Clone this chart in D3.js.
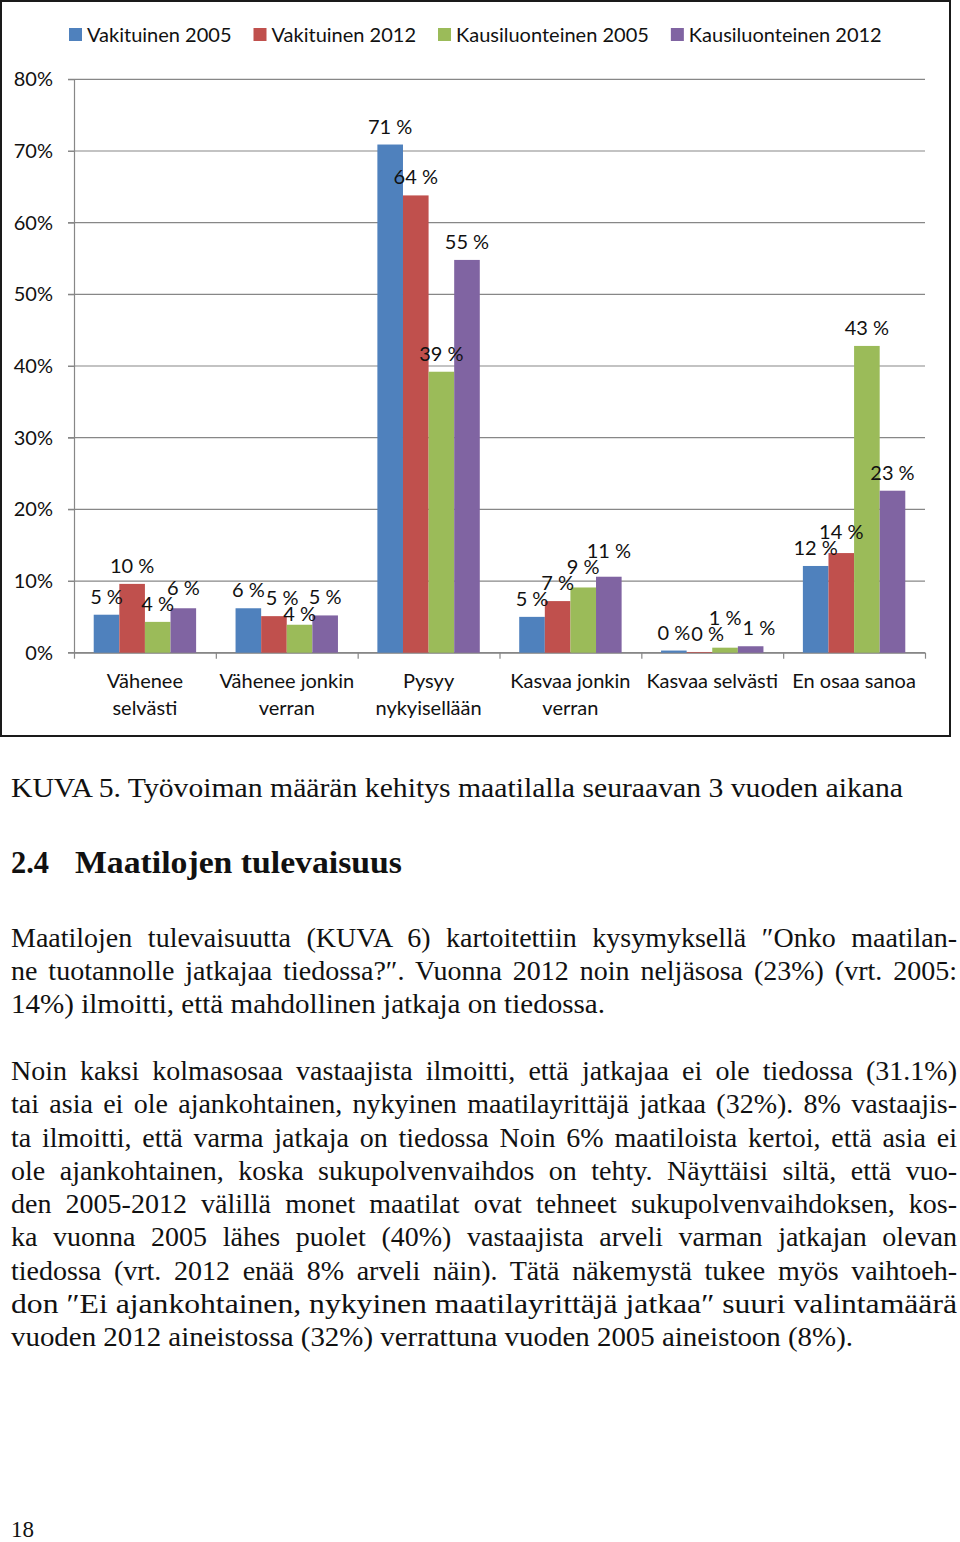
<!DOCTYPE html>
<html><head><meta charset="utf-8">
<script src="https://cdn.jsdelivr.net/npm/d3@7"></script>
<style>body{margin:0;background:#fff} svg{display:block}</style>
</head><body><svg id="c" width="960" height="1542"></svg>
<script>
// ---- data ----
const categoryLines = [["Vähenee","selvästi"],["Vähenee jonkin","verran"],["Pysyy","nykyisellään"],["Kasvaa jonkin","verran"],["Kasvaa selvästi"],["En osaa sanoa"]];
const seriesNames = ["Vakituinen 2005","Vakituinen 2012","Kausiluonteinen 2005","Kausiluonteinen 2012"];
const vakituinen2005 = [0.053, 0.062, 0.709, 0.050, 0.003, 0.121];
const vakituinen2012 = [0.096, 0.051, 0.638, 0.072, 0.001, 0.139];
const kausi2005      = [0.043, 0.039, 0.392, 0.091, 0.007, 0.428];
const kausi2012      = [0.062, 0.052, 0.548, 0.106, 0.009, 0.226];
const seriesValues = [vakituinen2005, vakituinen2012, kausi2005, kausi2012];
const colors = ["#4F81BD","#C0504D","#9BBB59","#8064A2"];
const yTicks = [0,0.1,0.2,0.3,0.4,0.5,0.6,0.7,0.8];

const caption = "KUVA 5. Työvoiman määrän kehitys maatilalla seuraavan 3 vuoden aikana";
const headingNum = "2.4";
const headingText = "Maatilojen tulevaisuus";
const para1 = [
  "Maatilojen tulevaisuutta (KUVA 6) kartoitettiin kysymyksellä ″Onko maatilan-",
  "ne tuotannolle jatkajaa tiedossa?″. Vuonna 2012 noin neljäsosa (23%) (vrt. 2005:",
  "14%) ilmoitti, että mahdollinen jatkaja on tiedossa."
];
const para2 = [
  "Noin kaksi kolmasosaa vastaajista ilmoitti, että jatkajaa ei ole tiedossa (31.1%)",
  "tai asia ei ole ajankohtainen, nykyinen maatilayrittäjä jatkaa (32%). 8% vastaajis-",
  "ta ilmoitti, että varma jatkaja on tiedossa Noin 6% maatiloista kertoi, että asia ei",
  "ole ajankohtainen, koska sukupolvenvaihdos on tehty. Näyttäisi siltä, että vuo-",
  "den 2005-2012 välillä monet maatilat ovat tehneet sukupolvenvaihdoksen, kos-",
  "ka vuonna 2005 lähes puolet (40%) vastaajista arveli varman jatkajan olevan",
  "tiedossa (vrt. 2012 enää 8% arveli näin). Tätä näkemystä tukee myös vaihtoeh-",
  "don ″Ei ajankohtainen, nykyinen maatilayrittäjä jatkaa″ suuri valintamäärä",
  "vuoden 2012 aineistossa (32%) verrattuna vuoden 2005 aineistoon (8%)."
];
const pageNumber = "18";

// ---- chart ----
const svg = d3.select("#c");
const chartFont = "Lato, 'Open Sans', sans-serif";
const FS = 20;
svg.append("rect").attr("x",1).attr("y",1).attr("width",949).attr("height",735)
  .attr("fill","#fff").attr("stroke","#1a1a1a").attr("stroke-width",2);

const L = 74, R = 925, T = 79.3, B = 652.7;
const y = d3.scaleLinear().domain([0,0.8]).range([B,T]);
const x0 = d3.scaleBand().domain(d3.range(categoryLines.length)).range([L,R]);
const x1 = d3.scaleBand().domain(d3.range(seriesNames.length)).range([0,x0.bandwidth()]).paddingOuter(0.77);
const xl = d3.scaleLinear().domain([0,categoryLines.length]).range([L,R]);

// gridlines
svg.append("g").selectAll("line").data(yTicks).join("line")
  .attr("x1",68).attr("x2",R).attr("y1",d=>y(d)).attr("y2",d=>y(d))
  .attr("stroke","#878787").attr("stroke-width",1.2);

// y axis
const ya = svg.append("g").attr("transform",`translate(${L},0)`)
  .call(d3.axisLeft(y).tickValues(yTicks).tickSize(6).tickSizeOuter(0).tickPadding(15).tickFormat(d3.format(".0%")));
ya.select(".domain").attr("stroke","#878787").attr("stroke-width",1.2);
ya.selectAll(".tick line").attr("stroke","#878787");
ya.selectAll("text").attr("font-family",chartFont).attr("font-size",FS).attr("fill","#111");

// x axis
const xa = svg.append("g").attr("transform",`translate(0,${B})`)
  .call(d3.axisBottom(xl).tickValues(d3.range(categoryLines.length+1)).tickSize(6).tickSizeOuter(0).tickFormat(""));
xa.select(".domain").attr("stroke","#878787").attr("stroke-width",1.2);
xa.selectAll(".tick line").attr("stroke","#878787").attr("stroke-width",1.2);

// category labels
const cl = svg.append("g").attr("font-family",chartFont).attr("font-size",FS).attr("fill","#111").attr("text-anchor","middle");
categoryLines.forEach((lines,i)=>{
  lines.forEach((ln,j)=>{
    cl.append("text").attr("x",x0(i)+x0.bandwidth()/2).attr("y",688+j*27).text(ln);
  });
});

// bars
const fmt = v => d3.format(".0f")(v*100) + " %";
seriesValues.forEach((vals,s)=>{
  svg.append("g").selectAll("rect").data(vals).join("rect")
    .attr("x",(d,i)=>x0(i)+x1(s)).attr("width",x1.bandwidth())
    .attr("y",d=>y(d)).attr("height",d=>y(0)-y(d)).attr("fill",colors[s]);
});

// data labels with simple collision avoidance (shift right, lower, or raise)
const lblG = svg.append("g").attr("font-family",chartFont).attr("font-size",FS).attr("fill","#111").attr("text-anchor","middle");
const GAP = 11, CAP = 14.5, MAXR = 12;
categoryLines.forEach((_,i)=>{
  const placed = [];
  seriesValues.forEach((vals,s)=>{
    const v = vals[i];
    const t = lblG.append("text").text(fmt(v));
    const w = t.node().getComputedTextLength();
    let cx = x0(i)+x1(s)+x1.bandwidth()/2;
    let by = y(v)-GAP;
    const maxBy = y(v)-0.5;
    for (let k=0;k<6;k++){
      const box = {x1:cx-w/2, x2:cx+w/2, y1:by-CAP, y2:by+0.5};
      const hit = placed.find(p => box.x1 < p.x2+1 && box.x2 > p.x1-1 && box.y1 < p.y2+1 && box.y2 > p.y1-1);
      if (!hit) break;
      const dxR = hit.x2 + 1 - box.x1;
      const dyD = hit.y2 + 1 - box.y1;
      const dyU = box.y2 - (hit.y1 - 1);
      const opts = [];
      if (dxR <= MAXR) opts.push({c:dxR*0.8, f:()=>{cx+=dxR;}});
      if (by + dyD <= maxBy) opts.push({c:dyD*1.3, f:()=>{by+=dyD;}});
      opts.push({c:dyU, f:()=>{by-=dyU;}});
      opts.sort((a,b)=>a.c-b.c);
      opts[0].f();
    }
    t.attr("x",cx).attr("y",by);
    placed.push({x1:cx-w/2, x2:cx+w/2, y1:by-CAP, y2:by+0.5});
  });
});

// legend
const lg = svg.append("g").attr("font-family",chartFont).attr("font-size",FS).attr("fill","#111");
let lx = 69;
seriesNames.forEach((n,s)=>{
  lg.append("rect").attr("x",lx).attr("y",28).attr("width",13).attr("height",13).attr("fill",colors[s]);
  const t = lg.append("text").attr("x",lx+18).attr("y",41.5).text(n);
  lx = lx + 18 + t.node().getComputedTextLength() + 22;
});

// ---- body text ----
const serif = "'Liberation Serif', 'DejaVu Serif', serif";
const tg = svg.append("g").attr("font-family",serif).attr("fill","#111");
function line(text, x, yy, size, target, justify, weight){
  const t = tg.append("text").attr("x",x).attr("y",yy).attr("font-size",size).text(text);
  if (weight) t.attr("font-weight",weight);
  const w = t.node().getComputedTextLength();
  if (target){
    const spaces = (text.match(/ /g)||[]).length;
    if (justify && spaces>0 && target > w && (target-w)/spaces < 14){
      t.style("word-spacing", ((target-w)/spaces)+"px");
    } else {
      t.attr("textLength",target).attr("lengthAdjust","spacingAndGlyphs");
    }
  }
  return t;
}
const LX = 11, RX = 957;
line(caption, LX, 797, 27, 903-LX, false);
line(headingNum, LX, 873, 31, 49-LX, false, "bold");
line(headingText, 75, 873, 31, 402-75, false, "bold");
para1.forEach((s,i)=>{
  const last = i===para1.length-1;
  line(s, LX, 947+i*33.1, 28, last ? 605-LX : RX-LX, !last);
});
para2.forEach((s,i)=>{
  const last = i===para2.length-1;
  line(s, LX, 1080+i*33.25, 28, last ? 853-LX : RX-LX, !last);
});
line(pageNumber, LX, 1537, 23, null, false);
</script></body></html>
